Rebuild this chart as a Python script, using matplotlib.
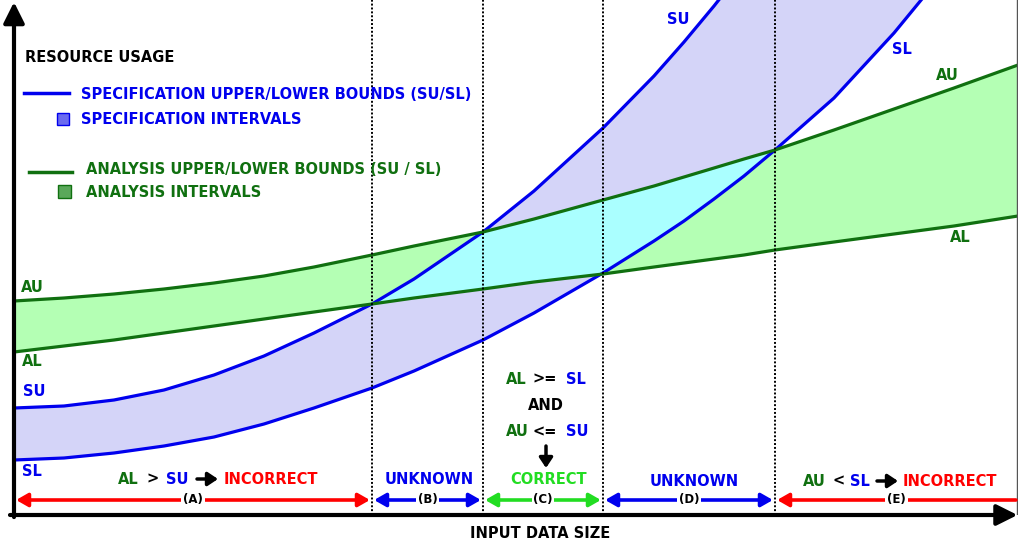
import numpy as np
import matplotlib.pyplot as plt
from matplotlib.lines import Line2D
from matplotlib.patches import Rectangle, FancyArrowPatch

# curves (x = input data size, y = resource usage)
x = [0, 5, 10, 15, 20, 25, 30, 35.8, 40, 46.9, 52, 58.9, 64, 67, 70, 73, 76.1, 82, 88, 94, 100.4]
su = [21.4, 21.8, 23.0, 25.0, 28.0, 31.8, 36.4, 42.2, 47.2, 56.6, 64.8, 77.4, 87.8, 94.6,
      101.8, 109.4, 117.4, 134.0, 152.0, 171.0, 192.0]
sl = [11.0, 11.4, 12.4, 13.8, 15.6, 18.2, 21.4, 25.4, 28.8, 35.0, 40.4, 48.4, 54.8, 58.8,
      63.2, 67.8, 73.0, 83.4, 96.4, 111.0, 128.0]
au = [42.8, 43.4, 44.2, 45.2, 46.4, 47.8, 49.6, 52.0, 53.8, 56.6, 59.2, 63.0, 65.8, 67.6,
      69.4, 71.2, 73.0, 77.0, 81.2, 85.4, 90.0]
al = [32.6, 33.8, 35.0, 36.4, 37.8, 39.2, 40.6, 42.2, 43.4, 45.2, 46.6, 48.2, 49.6, 50.4,
      51.2, 52.0, 53.0, 54.6, 56.2, 57.8, 59.8]

bounds = [0, 35.8, 46.9, 58.9, 76.1, 100.4]
region_tags = ["(A)", "(B)", "(C)", "(D)", "(E)"]

BLUE = '#0000ee'
GREEN = '#107010'
LGREEN = '#22dd22'
RED = '#ff0000'
region_colors = [RED, BLUE, LGREEN, BLUE, RED]

W, H = 1018, 546
fig = plt.figure(figsize=(W / 100, H / 100), dpi=100)
ax = fig.add_axes([14 / W, 31 / H, 1004 / W, 515 / H])
ax.set_xlim(0, 100.4)
ax.set_ylim(0, 103)
ax.set_xticks([])
ax.set_yticks([])
for s in ax.spines.values():
    s.set_visible(False)

xa = np.array(x)
su_a, sl_a, au_a, al_a = map(np.array, (su, sl, au, al))

# bands
ax.fill_between(xa, sl_a, su_a, color='#d4d4f8', lw=0, zorder=1)
ax.fill_between(xa, al_a, au_a, color='#b4ffb4', lw=0, zorder=1)
lo = np.maximum(sl_a, al_a)
hi = np.minimum(su_a, au_a)
ax.fill_between(xa, lo, hi, where=hi >= lo, interpolate=True, color='#aaffff', lw=0, zorder=2)

for ys, c in [(su_a, BLUE), (sl_a, BLUE), (au_a, GREEN), (al_a, GREEN)]:
    ax.plot(xa, ys, color=c, lw=2.3, solid_joinstyle='round', zorder=4)

for b in bounds[1:-1]:
    ax.axvline(b, color='black', lw=1.4, ls=(0, (1, 1)), zorder=5)
ax.axvline(100.3, color='#555555', lw=1, zorder=5)

# axes with arrows
ap = dict(arrowstyle='-|>,head_length=0.7,head_width=0.35', lw=3, color='black',
          mutation_scale=18, shrinkA=0, shrinkB=0)
ax.annotate('', xy=(0, 0.996), xytext=(0, -0.004), xycoords='axes fraction', arrowprops=ap,
            annotation_clip=False, zorder=6)
ax.annotate('', xy=(0.9995, 0), xytext=(-0.004, 0), xycoords='axes fraction', arrowprops=ap,
            annotation_clip=False, zorder=6)

# region arrows
yrow = 3.0
for i, (a, b) in enumerate(zip(bounds[:-1], bounds[1:])):
    style = '<|-|>' if i < 4 else '<|-'
    ax.annotate('', xy=(b, yrow), xytext=(a, yrow),
                arrowprops=dict(arrowstyle=style + ',head_length=0.7,head_width=0.4', lw=2.6,
                                color=region_colors[i], mutation_scale=10,
                                shrinkA=1.5, shrinkB=1.5), zorder=6)
    ax.text((a + b) / 2, yrow, region_tags[i], ha='center', va='center', fontsize=8.5,
            weight='bold', zorder=7, bbox=dict(fc='white', ec='none', pad=1.2))


def ftext(px, py, s, color='black', size=10.5, ha='left'):
    fig.text(px / W, 1 - py / H, s, color=color, fontsize=size, weight='bold',
             ha=ha, va='center')


def farrow(x0, y0, x1, y1, lw=2.5):
    fig.add_artist(FancyArrowPatch(
        (x0 / W, 1 - y0 / H), (x1 / W, 1 - y1 / H), transform=fig.transFigure,
        arrowstyle='-|>,head_length=0.6,head_width=0.4', mutation_scale=10,
        lw=lw, color='black', shrinkA=0, shrinkB=0))


# legend
ftext(25, 57, "RESOURCE USAGE")
fig.add_artist(Line2D([24 / W, 69 / W], [1 - 93 / H] * 2, color=BLUE, lw=2.5))
ftext(81, 94, "SPECIFICATION UPPER/LOWER BOUNDS (SU/SL)", BLUE)
fig.add_artist(Rectangle((57 / W, 1 - 125 / H), 12 / W, 12 / H, fc='#6b6bef', ec=BLUE,
                         lw=1, transform=fig.transFigure))
ftext(81, 119, "SPECIFICATION INTERVALS", BLUE)
fig.add_artist(Line2D([29 / W, 72 / W], [1 - 172 / H] * 2, color=GREEN, lw=2.5))
ftext(86, 170, "ANALYSIS UPPER/LOWER BOUNDS (SU / SL)", GREEN)
fig.add_artist(Rectangle((58 / W, 1 - 198 / H), 13 / W, 13 / H, fc='#5aa85a', ec=GREEN,
                         lw=1, transform=fig.transFigure))
ftext(86, 192, "ANALYSIS INTERVALS", GREEN)

# curve labels
ftext(21, 288, "AU", GREEN)
ftext(22, 362, "AL", GREEN)
ftext(23, 391, "SU", BLUE)
ftext(22, 472, "SL", BLUE)
ftext(667, 19, "SU", BLUE)
ftext(892, 49, "SL", BLUE)
ftext(936, 76, "AU", GREEN)
ftext(950, 237, "AL", GREEN)

# region captions
ftext(118, 479, "AL", GREEN)
ftext(146, 479, ">")
ftext(166, 479, "SU", BLUE)
farrow(197, 479, 218, 479)
ftext(224, 479, "INCORRECT", RED)

ftext(429, 480, "UNKNOWN", BLUE, ha='center')

ftext(506, 379, "AL", GREEN)
ftext(532, 379, ">=")
ftext(566, 379, "SL", BLUE)
ftext(546, 406, "AND", ha='center')
ftext(506, 432, "AU", GREEN)
ftext(532, 432, "<=")
ftext(566, 432, "SU", BLUE)
farrow(546, 446, 546, 468)
ftext(549, 480, "CORRECT", LGREEN, ha='center')

ftext(694, 481, "UNKNOWN", BLUE, ha='center')

ftext(803, 481, "AU", GREEN)
ftext(832, 481, "<")
ftext(850, 481, "SL", BLUE)
farrow(877, 481, 898, 481)
ftext(903, 481, "INCORRECT", RED)

ftext(540, 533, "INPUT DATA SIZE", ha='center')

fig.savefig("out.png", dpi=100)
